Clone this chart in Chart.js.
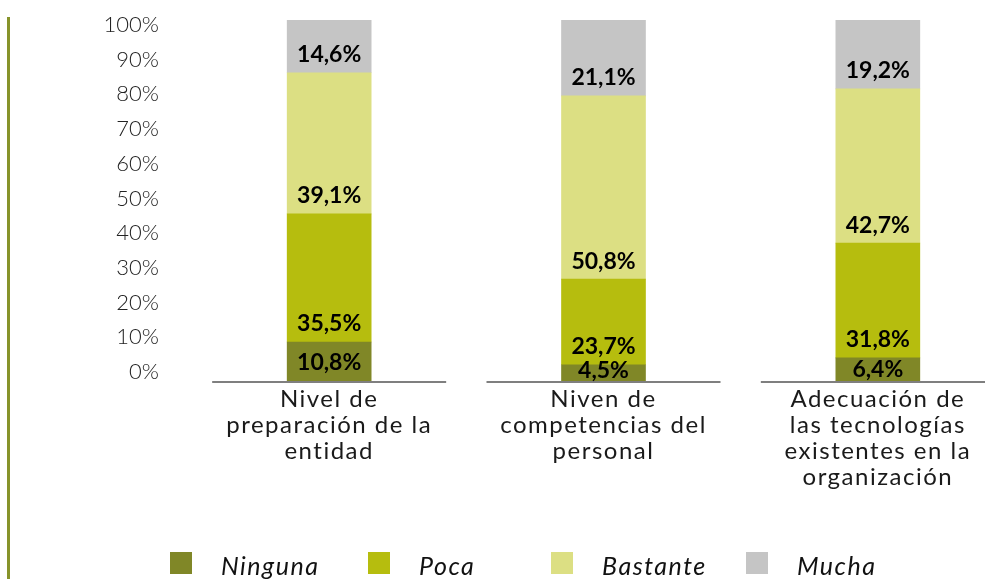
<!DOCTYPE html>
<html>
<head>
<meta charset="utf-8">
<script src="https://cdn.jsdelivr.net/npm/chart.js@4"></script>
<style>
  html, body { margin: 0; padding: 0; background: #fff; }
  #wrap { position: relative; width: 985px; height: 579px; overflow: hidden; }
  #side { position: absolute; left: 7px; top: 17px; width: 3px; height: 562px; background: #87932a; }
  #chart { position: absolute; left: 0; top: 0; }
  #legend { position: absolute; left: 0; top: 550px; width: 985px; height: 29px;
            font-family: Lato, "Noto Sans", sans-serif; font-style: italic; font-size: 25px;
            letter-spacing: 1.5px; color: #111; }
  .item { position: absolute; top: 0; height: 29px; white-space: nowrap; }
  .box { position: absolute; left: 0; top: 2px; width: 22px; height: 22px; }
  .txt { position: absolute; left: 51px; top: 1px; line-height: 28px; }
</style>
</head>
<body>
<div id="wrap">
  <div id="side"></div>
  <canvas id="chart" width="1040" height="579"></canvas>
  <div id="legend"></div>
</div>
<script>
// Data
const categories = [
  ['Nivel de', 'preparación de la', 'entidad'],
  ['Niven de', 'competencias del', 'personal'],
  ['Adecuación de', 'las tecnologías', 'existentes en la', 'organización']
];
const seriesNames = ['Ninguna', 'Poca', 'Bastante', 'Mucha'];
const ninguna = [10.8, 4.5, 6.4];
const poca = [35.5, 23.7, 31.8];
const bastante = [39.1, 50.8, 42.7];
const mucha = [14.6, 21.1, 19.2];
const yTicks = [0, 10, 20, 30, 40, 50, 60, 70, 80, 90, 100];

const colors = ['#808727', '#b6bd0e', '#dcdf83', '#c5c5c5'];
const seriesValues = [ninguna, poca, bastante, mucha];

// Value labels near the base of each segment
const valueLabels = {
  id: 'valueLabels',
  afterDatasetsDraw(chart) {
    const ctx = chart.ctx;
    ctx.save();
    ctx.font = 'bold 23px Lato, "Noto Sans", sans-serif';
    ctx.fillStyle = '#000';
    ctx.textAlign = 'center';
    ctx.textBaseline = 'middle';
    chart.data.datasets.forEach((ds, i) => {
      chart.getDatasetMeta(i).data.forEach((bar, j) => {
        const h = bar.base - bar.y;
        const y = bar.base - Math.min(18, Math.max(10, h / 2));
        ctx.fillText(ds.data[j].toFixed(1).replace('.', ',') + '%', bar.x, y);
      });
    });
    ctx.restore();
  }
};

// Separate axis segment under each category
const axisSegments = {
  id: 'axisSegments',
  afterDatasetsDraw(chart) {
    const ctx = chart.ctx;
    const xs = chart.scales.x;
    const y = chart.chartArea.bottom + 1;
    ctx.save();
    ctx.strokeStyle = '#7f7f7f';
    ctx.lineWidth = 2;
    categories.forEach((c, i) => {
      const x = xs.getPixelForValue(i);
      ctx.beginPath();
      ctx.moveTo(x - 117, y);
      ctx.lineTo(x + 117, y);
      ctx.stroke();
    });
    ctx.restore();
  }
};

// Wider letter spacing for the category labels (x ticks drawn after datasets, ticks.z: 1)
const spacing = {
  id: 'spacing',
  afterDatasetsDraw(chart) { chart.ctx.letterSpacing = '1.5px'; },
  afterDraw(chart) { chart.ctx.letterSpacing = '0px'; }
};

const chart = new Chart(document.getElementById('chart'), {
  type: 'bar',
  data: {
    labels: categories,
    datasets: seriesNames.map((name, i) => ({
      label: name,
      data: seriesValues[i],
      backgroundColor: colors[i],
      barThickness: 84,
      yAxisID: 'y'
    }))
  },
  options: {
    responsive: false,
    animation: false,
    layout: { padding: { left: 104, right: 25, top: 20, bottom: 78 } },
    plugins: {
      legend: { display: false },
      tooltip: { enabled: false }
    },
    scales: {
      x: {
        stacked: true,
        grid: { display: false, drawTicks: false },
        border: { display: false },
        ticks: {
          z: 1,
          autoSkip: false,
          maxRotation: 0,
          padding: 5,
          color: '#1a1a1a',
          font: { family: 'Lato, "Noto Sans", sans-serif', size: 24, lineHeight: '26px' }
        },
        afterFit(scale) { scale.height = 120; }
      },
      y: {
        stacked: true,
        min: 0,
        max: 100,
        display: false
      },
      y2: {
        type: 'linear',
        position: 'left',
        min: -2.6,
        max: 101.4,
        grid: { display: false, drawTicks: false },
        border: { display: false },
        afterBuildTicks(scale) { scale.ticks = yTicks.map(v => ({ value: v })); },
        afterFit(scale) {
          scale.width = 88;
          scale.paddingTop = 0;
          scale.paddingBottom = 0;
        },
        ticks: {
          padding: 33,
          color: '#222',
          font: { family: 'Lato, "Noto Sans", sans-serif', size: 22, weight: '300' },
          callback: v => v + '%'
        }
      }
    }
  },
  plugins: [axisSegments, valueLabels, spacing]
});

// Legend built from the datasets
const legendLefts = [170, 368, 551, 746];
const legend = document.getElementById('legend');
chart.data.datasets.forEach((ds, i) => {
  const item = document.createElement('div');
  item.className = 'item';
  item.style.left = legendLefts[i] + 'px';
  item.innerHTML = '<span class="box" style="background:' + ds.backgroundColor + '"></span>' +
                   '<span class="txt">' + ds.label + '</span>';
  legend.appendChild(item);
});
</script>
</body>
</html>
